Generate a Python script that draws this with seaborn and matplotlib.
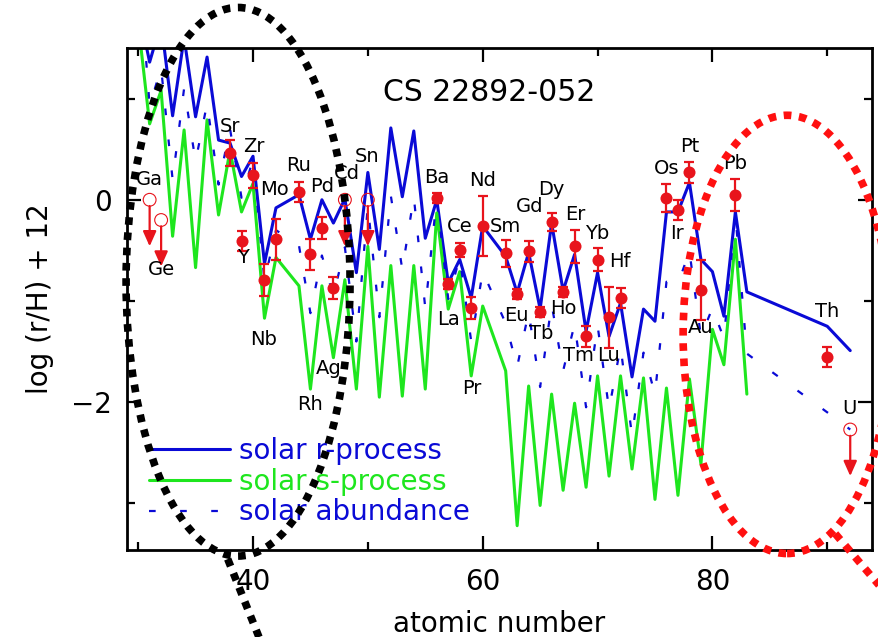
import matplotlib
matplotlib.use("Agg")
import matplotlib.pyplot as plt
from matplotlib.patches import Ellipse
import seaborn as sns
import pandas as pd

# atomic numbers of the solar model curves (no Tc, Pm)
z_model = [30, 31, 32, 33, 34, 35, 36, 37, 38, 39, 40, 41, 42,
           44, 45, 46, 47, 48, 49, 50, 51, 52, 53, 54, 55, 56, 57, 58, 59, 60,
           62, 63, 64, 65, 66, 67, 68, 69, 70, 71, 72, 73, 74, 75, 76, 77, 78,
           79, 80, 81, 82, 83]
z_actinide = [90, 92]

r_process = [1.90, 1.36, 1.75, 0.83, 1.60, 0.82, 1.41, 0.59, 0.56, 0.23, 0.43, -0.63, -0.08,
             0.05, -0.39, 0.00, -0.23, 0.01, -0.72, 0.27, -0.49, 0.71, 0.03, 0.68, -0.38,
             0.00, -0.82, -0.59, -0.97, -0.26,
             -0.56, -0.92, -0.52, -1.08, -0.23, -0.90, -0.54, -1.30, -0.72, -1.35, -1.02,
             -1.75, -1.08, -1.20, -0.12, -0.12, 0.17,
             -0.59, -0.71, -1.15, -0.12, -0.91]
r_actinide = [-1.25, -1.49]

s_process = [1.75, 0.75, 1.08, -0.36, 0.69, -0.67, 0.79, -0.15, 0.49, -0.12, 0.16, -1.17, -0.57,
             -0.85, -1.87, -0.85, -1.56, -0.79, -1.87, -0.46, -1.95, -0.65, -1.94, -0.65, -1.87,
             -0.13, -1.08, -0.71, -1.74, -1.05,
             -1.69, -3.22, -1.84, -3.02, -1.92, -2.87, -2.01, -2.84, -1.74, -2.73, -1.74,
             -2.66, -1.76, -2.96, -1.86, -2.92, -1.77,
             -2.61, -1.28, -1.63, -0.39, -1.92]

solar = [2.40, 0.93, 1.30, 0.20, 1.10, 0.38, 0.95, 0.15, 0.70, 0.02, 0.40, -0.80, -0.30,
         -0.45, -1.12, -0.55, -0.95, -0.47, -1.40, -0.06, -1.16, 0.04, -0.69, 0.03, -1.07,
         0.02, -0.98, -0.57, -1.40, -0.71,
         -1.22, -1.65, -1.11, -1.85, -1.03, -1.69, -1.23, -2.05, -1.24, -2.07, -1.45,
         -2.33, -1.51, -1.92, -0.81, -0.83, -0.51,
         -1.35, -1.07, -1.37, -0.14, -1.52]
solar_actinide = [-2.10, -2.27]

# measured abundances of CS 22892-052
det_elem = ["Sr", "Y", "Zr", "Nb", "Mo", "Ru", "Rh", "Pd", "Ag", "Ba", "La", "Ce", "Pr", "Nd",
            "Sm", "Eu", "Gd", "Tb", "Dy", "Ho", "Er", "Tm", "Yb", "Lu", "Hf", "Os", "Ir", "Pt",
            "Au", "Pb", "Th"]
det_z = [38, 39, 40, 41, 42, 44, 45, 46, 47, 56, 57, 58, 59, 60,
         62, 63, 64, 65, 66, 67, 68, 69, 70, 71, 72, 76, 77, 78, 79, 82, 90]
det_val = [0.46, -0.41, 0.24, -0.79, -0.39, 0.08, -0.54, -0.28, -0.87, 0.02, -0.83, -0.50, -1.07,
           -0.26, -0.53, -0.93, -0.51, -1.11, -0.22, -0.91, -0.46, -1.35, -0.59, -1.16, -0.97,
           0.02, -0.10, 0.27, -0.89, 0.05, -1.55]
det_err = [0.13, 0.10, 0.12, 0.16, 0.20, 0.10, 0.15, 0.11, 0.11, 0.05, 0.05, 0.07, 0.11, 0.30,
           0.13, 0.05, 0.10, 0.05, 0.09, 0.05, 0.16, 0.10, 0.11, 0.30, 0.10, 0.14, 0.10, 0.10,
           0.30, 0.16, 0.10]

# upper limits
lim_elem = ["Ga", "Ge", "Cd", "Sn", "U"]
lim_z = [31, 32, 48, 50, 92]
lim_val = [0.00, -0.20, 0.00, 0.00, -2.27]

# where each element name is written (atomic number, log eps)
label_pos = {
    "Ga": (31.0, 0.20), "Ge": (32.05, -0.69), "Sr": (38.0, 0.72), "Zr": (40.05, 0.53),
    "Y": (39.1, -0.57), "Mo": (41.85, 0.10), "Ru": (44.0, 0.34), "Pd": (46.05, 0.13),
    "Cd": (48.15, 0.26), "Sn": (49.95, 0.43), "Nb": (40.95, -1.38), "Rh": (44.95, -2.02),
    "Ag": (46.55, -1.67), "Ba": (56.0, 0.22), "Nd": (60.0, 0.19), "Ce": (58.0, -0.26),
    "Sm": (61.95, -0.26), "Gd": (64.05, -0.07), "Dy": (66.0, 0.10), "Er": (68.05, -0.15),
    "La": (57.0, -1.18), "Pr": (59.05, -1.86), "Eu": (62.95, -1.14), "Tb": (65.05, -1.32),
    "Ho": (67.05, -1.07), "Tm": (68.35, -1.54), "Lu": (70.95, -1.54), "Yb": (70.0, -0.33),
    "Hf": (71.95, -0.61), "Os": (76.0, 0.31), "Pt": (78.0, 0.53), "Ir": (76.95, -0.33),
    "Pb": (82.0, 0.36), "Au": (78.95, -1.26), "Th": (89.95, -1.10), "U": (91.95, -2.06),
}

blue = "#0a0ad6"
green = "#1ee61e"
red = "#e8141c"

model = pd.DataFrame({"Z": z_model + z_actinide,
                      "r": r_process + r_actinide,
                      "solar": solar + solar_actinide})
s_model = pd.DataFrame({"Z": z_model, "s": s_process})
det = pd.DataFrame({"Z": det_z, "val": det_val, "err": det_err})

sns.set_style("ticks")
plt.rcParams["font.family"] = ["DejaVu Sans"]
plt.rcParams["text.color"] = "black"
plt.rcParams["axes.labelcolor"] = "black"
plt.rcParams["xtick.color"] = "black"
plt.rcParams["ytick.color"] = "black"

fig = plt.figure(figsize=(8.79, 6.37), dpi=100)
ax = fig.add_axes([0.1441, 0.1366, 0.8480, 0.7881])

sns.lineplot(data=model, x="Z", y="r", ax=ax, color=blue, lw=2.2, sort=False,
             estimator=None, label="solar r-process")
sns.lineplot(data=s_model, x="Z", y="s", ax=ax, color=green, lw=2.2, sort=False,
             estimator=None, label="solar s-process")
sns.lineplot(data=model, x="Z", y="solar", ax=ax, color=blue, lw=1.6, sort=False,
             estimator=None, linestyle=(0, (3.0, 11.0)), label="solar abundance")

ax.errorbar(det["Z"], det["val"], yerr=det["err"], fmt="none", ecolor=red,
            elinewidth=1.6, capsize=3.5, capthick=1.6, zorder=4)
sns.scatterplot(data=det, x="Z", y="val", ax=ax, color=red, s=75, edgecolor=red,
                linewidth=0, zorder=5, legend=False)

arrow_len = 0.46
for z, v in zip(lim_z, lim_val):
    ax.annotate("", xy=(z, v - arrow_len), xytext=(z, v),
                arrowprops=dict(arrowstyle="-|>,head_length=0.45,head_width=0.2",
                                color=red, lw=1.6, shrinkA=4.5, shrinkB=0,
                                mutation_scale=20), zorder=4)
ax.scatter(lim_z, lim_val, s=85, facecolors="none", edgecolors=red, linewidths=0.8, zorder=5)

for name, (x, y) in label_pos.items():
    ax.text(x, y, name, fontsize=14, ha="center", va="center", color="black", zorder=6)

ax.text(60.6, 1.06, "CS 22892-052", fontsize=21.5, ha="center", va="center", color="black")

ax.set_xlim(29.0, 93.9)
ax.set_ylim(-3.46, 1.50)
ax.set_xticks([40, 60, 80])
ax.set_xticks([30, 50, 70, 90], minor=True)
ax.set_yticks([-2, 0])
ax.set_yticks([-3, -1, 1], minor=True)
ax.tick_params(which="both", direction="in", top=True, right=True, width=1.6,
               labelsize=20, color="black", labelcolor="black")
ax.tick_params(axis="x", which="both", pad=13)
ax.tick_params(axis="y", which="both", pad=11)
ax.tick_params(which="major", length=10)
ax.tick_params(which="minor", length=6)
for sp in ax.spines.values():
    sp.set_linewidth(2.0)
    sp.set_color("black")

ax.set_xlabel("atomic number", fontsize=20, labelpad=10)
ax.set_ylabel("log (r/H) + 12", fontsize=20, labelpad=12)

leg = ax.legend(loc="lower left", bbox_to_anchor=(0.03, 0.047), frameon=False,
                fontsize=20, handlelength=2.9, handletextpad=0.35, labelspacing=0.1,
                borderaxespad=0, borderpad=0, labelcolor="linecolor")

# hand-drawn highlight ellipses
ax.add_patch(Ellipse((38.7, -0.81), 19.5, 5.42, fill=False, edgecolor="black", lw=5.5,
                     linestyle=(0, (1, 1)), clip_on=False, zorder=10))
ax.plot([37.8, 40.8], [-3.55, -4.40], color="black", lw=5.5, linestyle=(0, (1, 1)),
        dash_capstyle="butt", clip_on=False, zorder=10)
ax.add_patch(Ellipse((86.5, -1.33), 18.1, 4.33, fill=False, edgecolor="#ff1010", lw=5.5,
                     linestyle=(0, (1, 1)), clip_on=False, zorder=10))
ax.plot([90.7, 95.2], [-3.30, -3.90], color="#ff1010", lw=5.5, linestyle=(0, (1, 1)),
        dash_capstyle="butt", clip_on=False, zorder=10)

fig.savefig("out.png", dpi=100)
